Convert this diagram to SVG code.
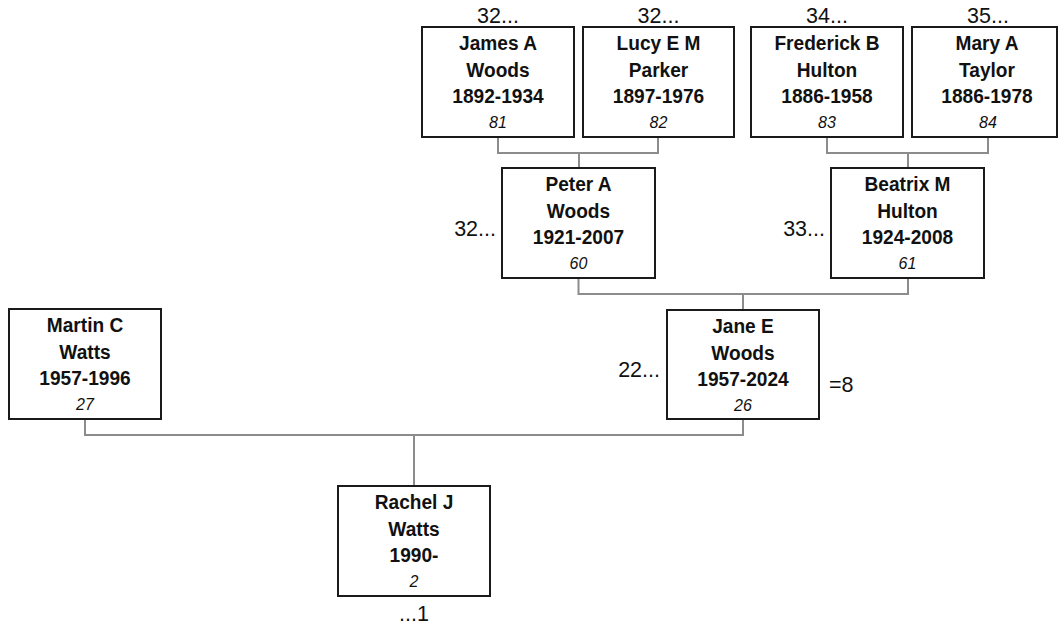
<svg xmlns="http://www.w3.org/2000/svg" width="1060" height="630" viewBox="0 0 1060 630">
<style>
  .box { fill: #ffffff; stroke: #1a1a1a; stroke-width: 2; }
  .conn { fill: none; stroke: #8c8c8c; stroke-width: 2; }
  .nm { font-family: "Liberation Sans", Arial, sans-serif; font-weight: bold; font-size: 21px; fill: #111; text-anchor: middle; }
  .id { font-family: "Liberation Sans", Arial, sans-serif; font-style: italic; font-size: 16px; fill: #111; text-anchor: middle; }
  .lbl { font-family: "Liberation Sans", Arial, sans-serif; font-size: 21.5px; fill: #111; }
</style>
<rect width="1060" height="630" fill="#ffffff"/>
<g id="connectors">
  <path class="conn" d="M498 137 V153 H658 V137 M579 153 V168"/>
  <path class="conn" d="M827 137 V153 H988 V137 M908 153 V168"/>
  <path class="conn" d="M578.5 278 V294 H908 V278 M743 294 V310"/>
  <path class="conn" d="M85 419 V435 H743 V419 M414 435 V486"/>
</g>
<g id="n81">
  <rect class="box" x="422" y="27" width="152" height="110"/>
  <g transform="translate(498 0) scale(0.91 1)">
    <text class="nm" x="0" y="50">James A</text>
    <text class="nm" x="0" y="77">Woods</text>
    <text class="nm" x="0" y="103">1892-1934</text>
  </g>
  <text class="id" x="498" y="128">81</text>
  <text class="lbl" x="498" y="23" text-anchor="middle">32...</text>
</g>
<g id="n82">
  <rect class="box" x="583" y="27" width="151" height="110"/>
  <g transform="translate(658.5 0) scale(0.91 1)">
    <text class="nm" x="0" y="50">Lucy E M</text>
    <text class="nm" x="0" y="77">Parker</text>
    <text class="nm" x="0" y="103">1897-1976</text>
  </g>
  <text class="id" x="658.5" y="128">82</text>
  <text class="lbl" x="658.5" y="23" text-anchor="middle">32...</text>
</g>
<g id="n83">
  <rect class="box" x="751" y="27" width="152" height="110"/>
  <g transform="translate(827 0) scale(0.91 1)">
    <text class="nm" x="0" y="50">Frederick B</text>
    <text class="nm" x="0" y="77">Hulton</text>
    <text class="nm" x="0" y="103">1886-1958</text>
  </g>
  <text class="id" x="827" y="128">83</text>
  <text class="lbl" x="827" y="23" text-anchor="middle">34...</text>
</g>
<g id="n84">
  <rect class="box" x="912" y="27" width="145" height="110"/>
  <g transform="translate(987 0) scale(0.91 1)">
    <text class="nm" x="0" y="50">Mary A</text>
    <text class="nm" x="0" y="77">Taylor</text>
    <text class="nm" x="0" y="103">1886-1978</text>
  </g>
  <text class="id" x="988" y="128">84</text>
  <text class="lbl" x="988" y="23" text-anchor="middle">35...</text>
</g>
<g id="n60">
  <rect class="box" x="502" y="168" width="153" height="110"/>
  <g transform="translate(578.5 0) scale(0.91 1)">
    <text class="nm" x="0" y="191">Peter A</text>
    <text class="nm" x="0" y="218">Woods</text>
    <text class="nm" x="0" y="244">1921-2007</text>
  </g>
  <text class="id" x="578.5" y="269">60</text>
  <text class="lbl" x="496" y="236" text-anchor="end">32...</text>
</g>
<g id="n61">
  <rect class="box" x="831" y="168" width="153" height="110"/>
  <g transform="translate(907.5 0) scale(0.91 1)">
    <text class="nm" x="0" y="191">Beatrix M</text>
    <text class="nm" x="0" y="218">Hulton</text>
    <text class="nm" x="0" y="244">1924-2008</text>
  </g>
  <text class="id" x="907.5" y="269">61</text>
  <text class="lbl" x="825" y="236" text-anchor="end">33...</text>
</g>
<g id="n26">
  <rect class="box" x="667" y="310" width="152" height="109"/>
  <g transform="translate(743 0) scale(0.91 1)">
    <text class="nm" x="0" y="333">Jane E</text>
    <text class="nm" x="0" y="360">Woods</text>
    <text class="nm" x="0" y="386">1957-2024</text>
  </g>
  <text class="id" x="743" y="411">26</text>
  <text class="lbl" x="660" y="377" text-anchor="end">22...</text>
  <text class="lbl" x="829" y="392">=8</text>
</g>
<g id="n27">
  <rect class="box" x="9" y="309" width="152" height="110"/>
  <g transform="translate(85 0) scale(0.91 1)">
    <text class="nm" x="0" y="332">Martin C</text>
    <text class="nm" x="0" y="359">Watts</text>
    <text class="nm" x="0" y="385">1957-1996</text>
  </g>
  <text class="id" x="85" y="410">27</text>
</g>
<g id="n2">
  <rect class="box" x="338" y="486" width="152" height="110"/>
  <g transform="translate(414 0) scale(0.91 1)">
    <text class="nm" x="0" y="509">Rachel J</text>
    <text class="nm" x="0" y="536">Watts</text>
    <text class="nm" x="0" y="562">1990-</text>
  </g>
  <text class="id" x="414" y="587">2</text>
  <text class="lbl" x="414" y="621" text-anchor="middle">...1</text>
</g>
</svg>
